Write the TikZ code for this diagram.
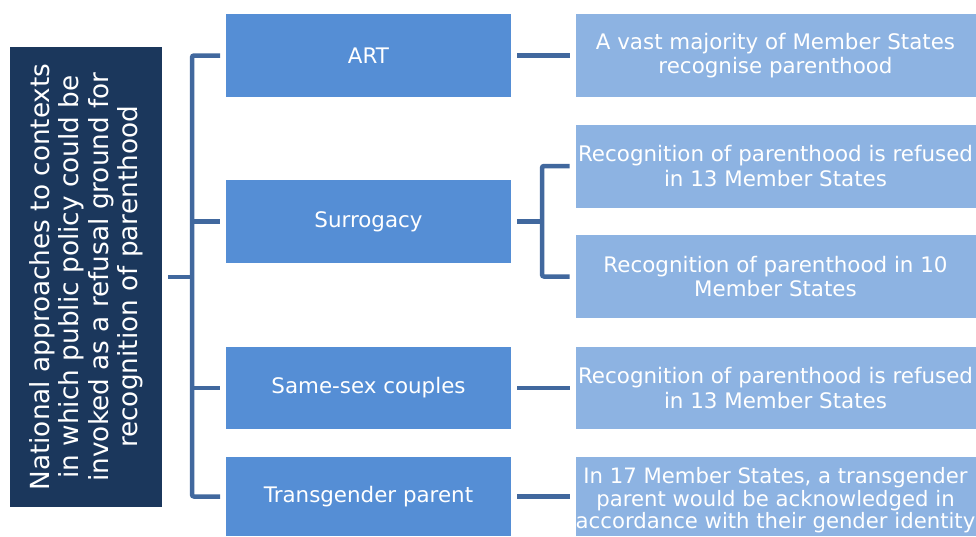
\documentclass[tikz,border=0pt]{standalone}
\usepackage{fontspec}
\setmainfont{DejaVu Sans}
\definecolor{navy}{HTML}{1B375C}
\definecolor{midblue}{HTML}{558ED5}
\definecolor{lightblue}{HTML}{8DB3E2}
\definecolor{connc}{HTML}{41689E}
\begin{document}
\begin{tikzpicture}[x=1pt,y=-1pt,
  every node/.style={inner sep=0pt, outer sep=0pt, text=white, align=center},
  leftbox/.style={fill=navy, minimum width=152, minimum height=460},
  midbox/.style={fill=midblue, minimum width=285, minimum height=83, font=\fontsize{21.4}{25}\selectfont},
  resbox/.style={fill=lightblue, minimum width=400, minimum height=83, font=\fontsize{21.4}{24.5}\selectfont},
  conn/.style={draw=connc, line width=4.5pt, rounded corners=2pt}]
\useasboundingbox (0,0) rectangle (976,536);
\node[leftbox] (L) at (86,277) {};
\node[rotate=90, font=\fontsize{26.3}{29.5}\selectfont] (Lt) at (86,277) {National approaches to contexts\\in which public policy could be\\invoked as a refusal ground for\\recognition of parenthood};
\node[midbox] (art) at (368.5,55.5) {ART};
\node[midbox] (sur) at (368.5,221.5) {Surrogacy};
\node[midbox, minimum height=82] (ss) at (368.5,388) {Same-sex couples};
\node[midbox, minimum height=79] (tg) at (368.5,496.5) {Transgender parent};
\node[resbox] (r1) at (775.5,55.5) {A vast majority of Member States\\recognise parenthood};
\node[resbox] (r2) at (775.5,166) {Recognition of parenthood is refused\\in 13 Member States};
\node[resbox] (r3) at (775.5,276.5) {Recognition of parenthood in 10\\Member States};
\node[resbox, minimum height=82] (r4) at (775.5,388) {Recognition of parenthood is refused\\in 13 Member States};
\node[resbox, minimum height=79] (r5) at (775.5,496.5) {};
\node[font=\fontsize{21.2}{22.5}\selectfont] (r5t) at ([yshift=-4]r5.center) {In 17 Member States, a transgender\\parent would be acknowledged in\\accordance with their gender identity};
\coordinate (bx) at (192,277);
\coordinate (sx) at (542,221.5);
\draw[conn] ([xshift=6]L.east) -- (bx);
\draw[conn] ([xshift=-6]art.west) -| (bx) |- ([xshift=-6]tg.west);
\draw[conn] (bx |- sur.west) -- ([xshift=-6]sur.west);
\draw[conn] (bx |- ss.west) -- ([xshift=-6]ss.west);
\draw[conn] ([xshift=6]art.east) -- ([xshift=-6]r1.west);
\draw[conn] ([xshift=6]sur.east) -- (sx);
\draw[conn] ([xshift=-6]r2.west) -| (sx) |- ([xshift=-6]r3.west);
\draw[conn] ([xshift=6]ss.east) -- ([xshift=-6]r4.west);
\draw[conn] ([xshift=6]tg.east) -- ([xshift=-6]r5.west);
\end{tikzpicture}
\end{document}
